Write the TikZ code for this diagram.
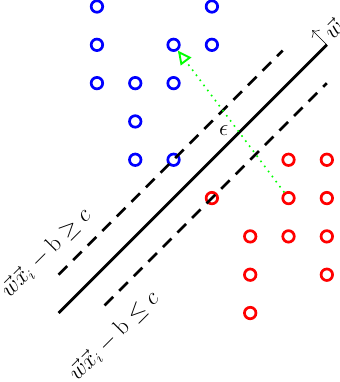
\documentclass[tikz,border=0pt]{standalone}
\usetikzlibrary{arrows.meta}

\begin{document}
\begin{tikzpicture}[
  pt/.style={circle, draw, line width=2pt, minimum size=0.3cm, inner sep=0pt},
  bpt/.style={pt, draw=blue},
  rpt/.style={pt, draw=red},
  hyper/.style={line width=2pt},
  margin/.style={line width=2pt, dash pattern=on 9pt off 6.3pt},
  lbl/.style={font=\fontsize{16}{19}\selectfont, rotate=45},
  gap/.style={green, line width=1.2pt, dash pattern=on 1.2pt off 3.5pt,
              -{Triangle[open, length=0.36cm, width=0.34cm, line width=1.4pt]}},
]
\useasboundingbox (-2.53,-1.80) rectangle (6.34,8.17);

% blue points
\node[bpt] (b1) at (0,8) {};
\node[bpt] (b2) at (3,8) {};
\node[bpt] (b3) at (0,7) {};
\node[bpt] (b4) at (2,7) {};
\node[bpt] (b5) at (3,7) {};
\node[bpt] (b6) at (0,6) {};
\node[bpt] (b7) at (1,6) {};
\node[bpt] (b8) at (2,6) {};
\node[bpt] (b9) at (1,5) {};
\node[bpt] (b10) at (1,4) {};
\node[bpt] (b11) at (2,4) {};

% red points
\node[rpt] (r1) at (3,3) {};
\node[rpt] (r2) at (5,4) {};
\node[rpt] (r3) at (6,4) {};
\node[rpt] (r4) at (5,3) {};
\node[rpt] (r5) at (6,3) {};
\node[rpt] (r6) at (4,2) {};
\node[rpt] (r7) at (5,2) {};
\node[rpt] (r8) at (6,2) {};
\node[rpt] (r9) at (4,1) {};
\node[rpt] (r10) at (6,1) {};
\node[rpt] (r11) at (4,0) {};

% separating line and margins
\coordinate (hstart) at (-1,0);
\coordinate (hend) at (6,7);
\coordinate (wtip) at (5.62,7.38);
\draw[hyper] (hstart) -- (hend);
\draw[margin] (-1,1) -- (4.85,6.85);
\draw[margin] (0.2,0.2) -- (6,6);
\draw[-{To[length=4pt]}, thin] (hend) -- (wtip);

\node[lbl] (wlbl) at (6.16,7.43) {$\vec{w}$};
\node[lbl] (geq) at (-1.33,1.57) {$\vec{w}\vec{x}_i - \mathrm{b} \geq c$};
\node[lbl] (leq) at (0.44,-0.6) {$\vec{w}\vec{x}_i - \mathrm{b} \leq c$};
\node[font=\fontsize{16}{19}\selectfont] (eps) at (3.31,4.77) {$\epsilon$};

\draw[gap] (r4) -- (b4);
\end{tikzpicture}
\end{document}
